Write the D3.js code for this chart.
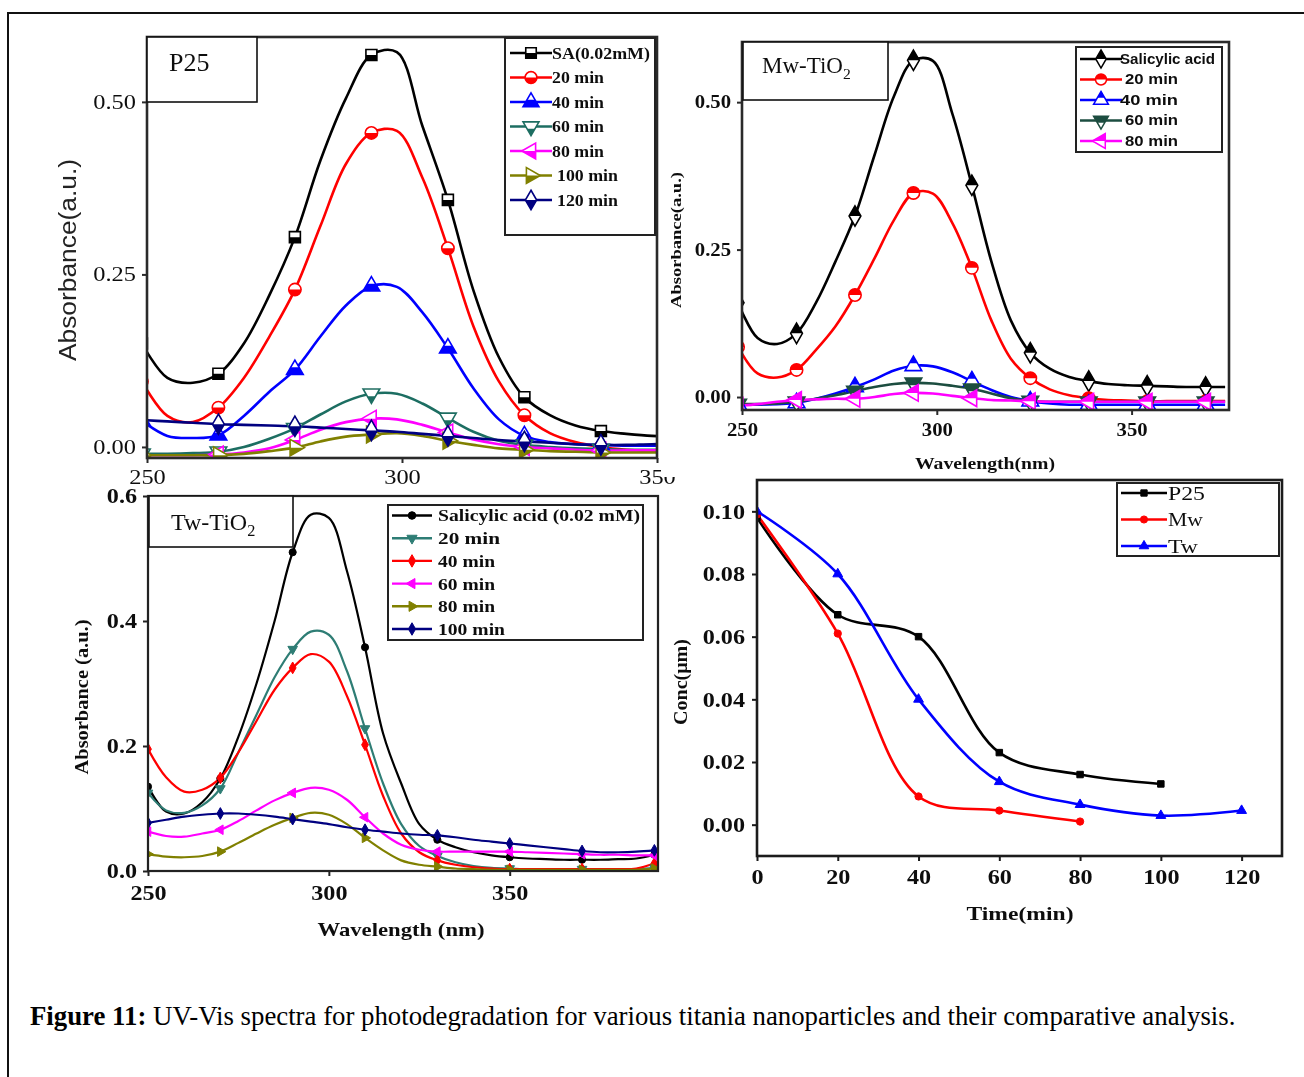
<!DOCTYPE html>
<html>
<head>
<meta charset="utf-8">
<title>Figure 11</title>
<script src="https://cdn.jsdelivr.net/npm/d3@7"></script>
<style>
  html, body { margin: 0; padding: 0; background: #fff; }
  svg { display: block; }
</style>
</head>
<body>
<svg id="fig" width="1304" height="1077"></svg>
<script>
// ---------- P25 spectra (absorbance vs wavelength, nm) ----------
const p25Wavelength = [249, 254, 259, 264, 269, 274, 279, 284, 289, 294, 299, 304, 309, 314, 319, 324, 329, 334, 339, 344, 349, 354];
const p25SA    = [0.150, 0.100, 0.093, 0.106, 0.150, 0.220, 0.304, 0.415, 0.505, 0.568, 0.572, 0.465, 0.358, 0.227, 0.130, 0.072, 0.046, 0.031, 0.023, 0.019, 0.016, 0.015];
const p25Min20 = [0.095, 0.045, 0.036, 0.057, 0.100, 0.160, 0.228, 0.320, 0.410, 0.455, 0.458, 0.390, 0.288, 0.175, 0.095, 0.046, 0.020, 0.007, 0.000, -0.004, -0.006, -0.006];
const p25Min40 = [0.038, 0.016, 0.013, 0.017, 0.045, 0.080, 0.112, 0.160, 0.205, 0.233, 0.232, 0.195, 0.143, 0.085, 0.040, 0.016, 0.007, 0.004, 0.003, 0.002, 0.002, 0.002];
const p25Min60 = [-0.010, -0.010, -0.009, -0.007, 0.000, 0.012, 0.027, 0.047, 0.066, 0.077, 0.077, 0.063, 0.042, 0.022, 0.009, 0.003, 0.000, -0.002, -0.003, -0.004, -0.004, -0.004];
const p25Min80 = [-0.012, -0.012, -0.012, -0.011, -0.008, -0.002, 0.010, 0.025, 0.036, 0.041, 0.040, 0.032, 0.021, 0.011, 0.004, 0.000, -0.002, -0.004, -0.005, -0.005, -0.005, -0.005];
const p25Min100 = [-0.012, -0.012, -0.012, -0.012, -0.010, -0.006, -0.001, 0.008, 0.015, 0.018, 0.020, 0.016, 0.009, 0.003, -0.002, -0.004, -0.006, -0.007, -0.008, -0.008, -0.008, -0.008];
const p25Min120 = [0.039, 0.037, 0.035, 0.033, 0.032, 0.031, 0.030, 0.028, 0.026, 0.024, 0.022, 0.019, 0.016, 0.013, 0.010, 0.008, 0.006, 0.004, 0.003, 0.003, 0.004, 0.004];
const p25Labels = ['SA(0.02mM)', '20 min', '40 min', '60 min', '80 min', '100 min', '120 min'];
const p25YTicks = [0, 0.25, 0.5];

// ---------- Mw-TiO2 spectra ----------
const mwWavelength = [249, 254, 259, 264, 269, 274, 279, 284, 289, 294, 299, 304, 309, 314, 319, 324, 329, 334, 339, 344, 349, 354, 359, 364, 369, 374];
const mwSA    = [0.160, 0.100, 0.090, 0.108, 0.160, 0.230, 0.307, 0.410, 0.510, 0.571, 0.570, 0.480, 0.359, 0.230, 0.130, 0.075, 0.048, 0.034, 0.027, 0.022, 0.020, 0.019, 0.018, 0.017, 0.017, 0.017];
const mwMin20 = [0.085, 0.040, 0.033, 0.046, 0.080, 0.120, 0.173, 0.235, 0.300, 0.346, 0.345, 0.295, 0.219, 0.130, 0.065, 0.032, 0.013, 0.003, -0.002, -0.005, -0.006, -0.007, -0.007, -0.007, -0.007, -0.007];
const mwMin40 = [-0.013, -0.013, -0.012, -0.010, -0.003, 0.006, 0.017, 0.030, 0.045, 0.053, 0.052, 0.042, 0.027, 0.012, 0.000, -0.007, -0.011, -0.013, -0.013, -0.013, -0.013, -0.013, -0.013, -0.013, -0.013, -0.013];
const mwMin60 = [-0.012, -0.012, -0.011, -0.008, -0.003, 0.003, 0.010, 0.017, 0.022, 0.024, 0.023, 0.019, 0.014, 0.006, -0.002, -0.007, -0.008, -0.008, -0.008, -0.008, -0.008, -0.008, -0.008, -0.008, -0.008, -0.008];
const mwMin80 = [-0.015, -0.012, -0.008, -0.005, -0.004, -0.003, -0.003, 0.000, 0.005, 0.007, 0.006, 0.002, -0.002, -0.005, -0.006, -0.007, -0.008, -0.008, -0.008, -0.008, -0.008, -0.008, -0.008, -0.008, -0.008, -0.008];
const mwLabels = ['Salicylic acid', '20 min', '40 min', '60 min', '80 min'];
const mwYTicks = [0, 0.25, 0.5];

// ---------- Tw-TiO2 spectra ----------
const twWavelength = [250, 255, 260, 265, 270, 275, 280, 285, 290, 295, 300, 305, 310, 315, 320, 325, 330, 335, 340, 345, 350, 355, 360, 365, 370, 375, 380, 385, 390];
const twSA    = [0.135, 0.095, 0.092, 0.110, 0.148, 0.215, 0.300, 0.400, 0.510, 0.570, 0.565, 0.480, 0.358, 0.220, 0.140, 0.075, 0.050, 0.038, 0.030, 0.025, 0.022, 0.020, 0.019, 0.018, 0.018, 0.018, 0.019, 0.020, 0.026];
const twMin20 = [0.125, 0.097, 0.093, 0.105, 0.132, 0.190, 0.250, 0.310, 0.355, 0.383, 0.378, 0.320, 0.228, 0.140, 0.075, 0.040, 0.024, 0.014, 0.008, 0.005, 0.004, 0.003, 0.003, 0.003, 0.003, 0.003, 0.003, 0.003, 0.005];
const twMin40 = [0.195, 0.150, 0.127, 0.130, 0.149, 0.190, 0.240, 0.290, 0.325, 0.347, 0.335, 0.280, 0.202, 0.120, 0.060, 0.030, 0.017, 0.010, 0.006, 0.004, 0.003, 0.003, 0.003, 0.003, 0.003, 0.003, 0.003, 0.004, 0.012];
const twMin60 = [0.063, 0.056, 0.055, 0.060, 0.066, 0.080, 0.097, 0.113, 0.125, 0.133, 0.130, 0.114, 0.086, 0.060, 0.042, 0.034, 0.031, 0.031, 0.031, 0.031, 0.031, 0.030, 0.029, 0.028, 0.027, 0.026, 0.026, 0.025, 0.025];
const twMin80 = [0.027, 0.023, 0.022, 0.024, 0.031, 0.045, 0.060, 0.074, 0.085, 0.093, 0.090, 0.075, 0.053, 0.033, 0.017, 0.010, 0.007, 0.004, 0.003, 0.002, 0.002, 0.002, 0.002, 0.002, 0.002, 0.002, 0.002, 0.002, 0.004];
const twMin100 = [0.077, 0.082, 0.087, 0.090, 0.092, 0.092, 0.090, 0.087, 0.083, 0.079, 0.075, 0.070, 0.066, 0.063, 0.060, 0.058, 0.057, 0.054, 0.050, 0.047, 0.044, 0.041, 0.038, 0.035, 0.032, 0.030, 0.030, 0.031, 0.033];
const twLabels = ['Salicylic acid (0.02 mM)', ' 20 min', '40 min', '60 min', '80 min', '100 min'];
const twYTicks = [0, 0.2, 0.4, 0.6];

const spectraXTicks = [250, 300, 350];

// ---------- Concentration vs time ----------
const concTimeP25 = [0, 20, 40, 60, 80, 100];
const concP25     = [0.098, 0.067, 0.060, 0.023, 0.016, 0.013];
const concTimeMw  = [0, 20, 40, 60, 80];
const concMw      = [0.099, 0.061, 0.009, 0.0045, 0.001];
const concTimeTw  = [0, 20, 40, 60, 80, 100, 120];
const concTw      = [0.100, 0.080, 0.040, 0.0137, 0.0064, 0.0029, 0.0045];
const concLabels  = ['P25', 'Mw', 'Tw'];
const concXTicks  = [0, 20, 40, 60, 80, 100, 120];
const concYTicks  = [0, 0.02, 0.04, 0.06, 0.08, 0.10];

const captionBold = 'Figure 11:';
const captionText = ' UV-Vis spectra for photodegradation for various titania nanoparticles and their comparative analysis.';

// ---------- drawing ----------
const SERIF = "'Liberation Serif','Times New Roman',Times,serif";
const SANS = "'Liberation Sans',Arial,Helvetica,sans-serif";
const svg = d3.select('#fig');
const defs = svg.append('defs');

// the scanned panels are slightly soft
defs.append('filter').attr('id', 'soft').attr('x', '-2%').attr('y', '-2%').attr('width', '104%').attr('height', '104%')
  .append('feGaussianBlur').attr('stdDeviation', 0.5);

// clip regions for half-filled (Origin style) symbols
defs.append('clipPath').attr('id', 'lowerHalf').attr('clipPathUnits', 'objectBoundingBox')
  .append('rect').attr('x', -0.2).attr('y', 0.5).attr('width', 1.4).attr('height', 0.7);
defs.append('clipPath').attr('id', 'upperHalf').attr('clipPathUnits', 'objectBoundingBox')
  .append('rect').attr('x', -0.2).attr('y', -0.2).attr('width', 1.4).attr('height', 0.7);

const SHAPES = {
  square: [d3.symbolSquare, 0],
  circle: [d3.symbolCircle, 0],
  up: [d3.symbolTriangle, 0],
  down: [d3.symbolTriangle, 180],
  left: [d3.symbolTriangle, -90],
  right: [d3.symbolTriangle, 90],
  diamond: [d3.symbolDiamond, 0]
};

function marker(parent, x, y, shape, area, color, mode, sw) {
  const [type, rot] = SHAPES[shape];
  const d = d3.symbol(type, area)();
  const m = parent.append('g').attr('transform', `translate(${x},${y})`);
  if (mode === 'filled') {
    m.append('path').attr('d', d).attr('transform', `rotate(${rot})`)
      .attr('fill', color).attr('stroke', color).attr('stroke-width', sw);
    return;
  }
  m.append('path').attr('d', d).attr('transform', `rotate(${rot})`).attr('fill', '#fff');
  m.append('g').attr('clip-path', `url(#${mode}Half)`)
    .append('path').attr('d', d).attr('transform', `rotate(${rot})`).attr('fill', color);
  m.append('path').attr('d', d).attr('transform', `rotate(${rot})`)
    .attr('fill', 'none').attr('stroke', color).attr('stroke-width', sw);
}

function addText(parent, o) {
  const t = parent.append('text')
    .attr('x', o.x).attr('y', o.y)
    .attr('font-family', o.font || SERIF)
    .attr('font-size', o.size)
    .attr('font-weight', o.weight || 'normal')
    .attr('fill', o.fill || '#111')
    .attr('text-anchor', o.anchor || 'start');
  if (o.dy) t.attr('dy', o.dy);
  if (o.rotate) t.attr('transform', `rotate(${o.rotate},${o.x},${o.y})`);
  if (o.length) t.attr('textLength', o.length).attr('lengthAdjust', 'spacingAndGlyphs');
  t.text(o.text);
  return t;
}

function panel(root, o) {
  const g = root.append('g');
  const x = d3.scaleLinear().domain(o.xDomain).range([o.left, o.right]);
  const y = d3.scaleLinear().domain(o.yDomain).range([o.bottom, o.top]);
  const clipId = o.id + 'Clip';
  defs.append('clipPath').attr('id', clipId).append('rect')
    .attr('x', o.left).attr('y', o.top).attr('width', o.right - o.left).attr('height', o.bottom - o.top);

  const plot = g.append('g').attr('clip-path', `url(#${clipId})`);
  o.series.forEach(s => {
    const line = d3.line()
      .x((d, i) => x(s.xs[i]))
      .y(d => y(d))
      .curve(o.curve);
    plot.append('path').datum(s.values).attr('d', line)
      .attr('fill', 'none').attr('stroke', s.color)
      .attr('stroke-width', o.lineWidth).attr('stroke-linejoin', 'round');
  });
  o.series.forEach(s => {
    s.values.forEach((v, i) => {
      if (o.markerEvery && (i % o.markerEvery) !== 0) return;
      marker(plot, x(s.xs[i]), y(v), s.shape, o.markerArea, s.color, o.markerMode, o.markerStroke);
    });
  });

  // axes
  const ax = g.append('g').attr('transform', `translate(0,${o.bottom})`)
    .call(d3.axisBottom(x).tickValues(o.xTicks).tickSize(5).tickSizeOuter(0)
      .tickPadding(o.xPad).tickFormat(o.xFormat));
  const ay = g.append('g').attr('transform', `translate(${o.left},0)`)
    .call(d3.axisLeft(y).tickValues(o.yTicks).tickSize(5).tickSizeOuter(0)
      .tickPadding(o.yPad).tickFormat(o.yFormat));
  [ax, ay].forEach(a => {
    a.select('.domain').remove();
    a.selectAll('line').attr('stroke', o.frameColor).attr('stroke-width', 2);
    a.selectAll('text').attr('font-family', SERIF).attr('font-size', o.tickSize)
      .attr('font-weight', o.tickWeight).attr('fill', '#111')
      .each(function () {
        // tick numerals in this figure are set a little wide
        const w = this.getComputedTextLength();
        d3.select(this).attr('textLength', w * o.tickStretch).attr('lengthAdjust', 'spacingAndGlyphs');
      });
  });

  g.append('rect').attr('x', o.left).attr('y', o.top)
    .attr('width', o.right - o.left).attr('height', o.bottom - o.top)
    .attr('fill', 'none').attr('stroke', o.frameColor).attr('stroke-width', o.frameWidth);
  return { g, x, y };
}

function legend(root, o) {
  const g = root.append('g');
  g.append('rect').attr('x', o.x).attr('y', o.y).attr('width', o.w).attr('height', o.h)
    .attr('fill', '#fff').attr('stroke', o.stroke || '#222').attr('stroke-width', o.sw || 2);
  o.items.forEach((it, i) => {
    const cy = o.firstY + i * o.step;
    g.append('line').attr('x1', o.lineX0).attr('x2', o.lineX1).attr('y1', cy).attr('y2', cy)
      .attr('stroke', it.color).attr('stroke-width', o.lineWidth);
    marker(g, (o.lineX0 + o.lineX1) / 2, cy, it.shape, o.markerArea, it.color, o.markerMode, o.markerStroke);
    addText(g, { x: o.textX + (o.dx ? o.dx[i] : 0), y: cy, dy: '0.35em', text: it.label,
      font: o.font, size: o.fontSize, weight: o.weight, length: o.lengths[i] });
  });
}

function labelBox(root, o) {
  const g = root.append('g');
  g.append('rect').attr('x', o.x).attr('y', o.y).attr('width', o.w).attr('height', o.h)
    .attr('fill', '#fff').attr('stroke', '#111').attr('stroke-width', 1.6);
  const t = g.append('text').attr('x', o.tx).attr('y', o.ty)
    .attr('font-family', SERIF).attr('font-size', o.size).attr('fill', '#111');
  t.append('tspan').text(o.main);
  if (o.sub) t.append('tspan').attr('font-size', o.size * 0.68).attr('dy', o.size * 0.25).text(o.sub);
}

// outer figure frame
svg.append('path').attr('d', 'M8,1080 L8,13 L1310,13')
  .attr('fill', 'none').attr('stroke', '#111').attr('stroke-width', 2);

const fmt2 = d3.format('.2f');
const fmt1 = d3.format('.1f');
const spectrumCurve = d3.curveCatmullRom.alpha(0.5);

// ===== P25 =====
const p25Root = svg.append('g').attr('filter', 'url(#soft)');
const p25Series = [
  { values: p25SA, color: '#000000', shape: 'square' },
  { values: p25Min20, color: '#ff0000', shape: 'circle' },
  { values: p25Min40, color: '#0000ff', shape: 'up' },
  { values: p25Min60, color: '#1f6e62', shape: 'down' },
  { values: p25Min80, color: '#ff00ff', shape: 'left' },
  { values: p25Min100, color: '#808000', shape: 'right' },
  { values: p25Min120, color: '#000080', shape: 'diamond' }
].map(s => Object.assign(s, { xs: p25Wavelength }));
panel(p25Root, {
  id: 'p25', xDomain: [250, 350], yDomain: [-0.016, 0.594],
  left: 147, right: 657, top: 37, bottom: 458,
  series: p25Series, curve: spectrumCurve, lineWidth: 2.6,
  markerEvery: 3, markerArea: 120, markerMode: 'lower', markerStroke: 1.6,
  xTicks: spectraXTicks, yTicks: p25YTicks, xFormat: d3.format('d'), yFormat: fmt2,
  xPad: 7, yPad: 6, tickSize: 20, tickWeight: 'normal', tickStretch: 1.22,
  frameColor: '#2a2a2a', frameWidth: 2.6
});
addText(p25Root, { x: 76, y: 260, text: 'Absorbance(a.u.)', font: SANS, size: 23, anchor: 'middle', rotate: -90, length: 202, fill: '#222' });
labelBox(p25Root, { x: 147, y: 37, w: 110, h: 65, tx: 169, ty: 71, size: 26, main: 'P25' });
legend(p25Root, {
  x: 505, y: 38, w: 150, h: 197, firstY: 53, step: 24.5,
  lineX0: 510, lineX1: 552, textX: 552, dx: [0, 0, 0, 0, 0, 5, 5],
  lineWidth: 2.6, markerArea: 110, markerMode: 'lower', markerStroke: 1.6,
  font: SERIF, fontSize: 16, weight: 'bold',
  lengths: [98, 52, 52, 52, 52, 61, 61],
  items: p25Series.map((s, i) => ({ color: s.color, shape: s.shape, label: p25Labels[i] }))
});

// white ground of the neighbouring panel trims the last P25 tick label
svg.append('rect').attr('x', 661).attr('y', 15).attr('width', 643).attr('height', 462).attr('fill', '#fff');

// ===== Mw-TiO2 =====
const mwRoot = svg.append('g').attr('filter', 'url(#soft)');
const mwSeries = [
  { values: mwSA, color: '#000000', shape: 'diamond' },
  { values: mwMin20, color: '#ff0000', shape: 'circle' },
  { values: mwMin40, color: '#0000ff', shape: 'up' },
  { values: mwMin60, color: '#1d4d3f', shape: 'down' },
  { values: mwMin80, color: '#ff00ff', shape: 'left' }
].map(s => Object.assign(s, { xs: mwWavelength }));
panel(mwRoot, {
  id: 'mw', xDomain: [250, 375], yDomain: [-0.022, 0.602],
  left: 742, right: 1229, top: 42, bottom: 410,
  series: mwSeries, curve: spectrumCurve, lineWidth: 2.6,
  markerEvery: 3, markerArea: 120, markerMode: 'upper', markerStroke: 1.6,
  xTicks: spectraXTicks, yTicks: mwYTicks, xFormat: d3.format('d'), yFormat: fmt2,
  xPad: 8, yPad: 6, tickSize: 18, tickWeight: 'bold', tickStretch: 1.15,
  frameColor: '#2a2a2a', frameWidth: 2.6
});
addText(mwRoot, { x: 681, y: 240, text: 'Absorbance(a.u.)', size: 15, weight: 'bold', anchor: 'middle', rotate: -90, length: 136 });
addText(mwRoot, { x: 985, y: 469, text: 'Wavelength(nm)', size: 16, weight: 'bold', anchor: 'middle', length: 140 });
labelBox(mwRoot, { x: 743, y: 42, w: 145, h: 58, tx: 762, ty: 73, size: 23, main: 'Mw-TiO', sub: '2' });
legend(mwRoot, {
  x: 1076, y: 47, w: 146, h: 105, firstY: 59, step: 20.5,
  lineX0: 1080, lineX1: 1122, textX: 1120, dx: [0, 5, 0, 5, 5],
  lineWidth: 2.6, markerArea: 95, markerMode: 'upper', markerStroke: 1.5,
  font: SANS, fontSize: 14, weight: 'bold',
  lengths: [95, 53, 58, 53, 53],
  items: mwSeries.map((s, i) => ({ color: s.color, shape: s.shape, label: mwLabels[i] }))
});

// ===== Tw-TiO2 =====
const twRoot = svg.append('g').attr('filter', 'url(#soft)');
const twSeries = [
  { values: twSA, color: '#000000', shape: 'circle' },
  { values: twMin20, color: '#2e7d74', shape: 'down' },
  { values: twMin40, color: '#ff0000', shape: 'diamond' },
  { values: twMin60, color: '#ff00ff', shape: 'left' },
  { values: twMin80, color: '#808000', shape: 'right' },
  { values: twMin100, color: '#000080', shape: 'diamond' }
].map(s => Object.assign(s, { xs: twWavelength }));
panel(twRoot, {
  id: 'tw', xDomain: [250, 391], yDomain: [0, 0.6],
  left: 148, right: 658, top: 496, bottom: 871,
  series: twSeries, curve: spectrumCurve, lineWidth: 2.2,
  markerEvery: 4, markerArea: 40, markerMode: 'filled', markerStroke: 1,
  xTicks: spectraXTicks, yTicks: twYTicks, xFormat: d3.format('d'), yFormat: fmt1,
  xPad: 9, yPad: 6, tickSize: 21, tickWeight: 'bold', tickStretch: 1.15,
  frameColor: '#222', frameWidth: 2.2
});
addText(twRoot, { x: 88, y: 697, text: 'Absorbance (a.u.)', size: 18, weight: 'bold', anchor: 'middle', rotate: -90, length: 155 });
addText(twRoot, { x: 401, y: 936, text: 'Wavelength (nm)', size: 19, weight: 'bold', anchor: 'middle', length: 167 });
labelBox(twRoot, { x: 149, y: 496, w: 144, h: 51, tx: 171, ty: 530, size: 24, main: 'Tw-TiO', sub: '2' });
legend(twRoot, {
  x: 388, y: 505, w: 255, h: 135, firstY: 515.5, step: 22.7,
  lineX0: 392, lineX1: 432, textX: 438, dx: [0, 0, 0, 0, 0, 0],
  lineWidth: 2.4, markerArea: 45, markerMode: 'filled', markerStroke: 1,
  font: SERIF, fontSize: 17, weight: 'bold',
  lengths: [202, 62, 57, 57, 57, 67],
  items: twSeries.map((s, i) => ({ color: s.color, shape: s.shape, label: twLabels[i] }))
});

// ===== Concentration vs time =====
const concRoot = svg.append('g').attr('filter', 'url(#soft)');
const concSeries = [
  { xs: concTimeP25, values: concP25, color: '#000000', shape: 'square' },
  { xs: concTimeMw, values: concMw, color: '#ff0000', shape: 'circle' },
  { xs: concTimeTw, values: concTw, color: '#0000ff', shape: 'up' }
];
panel(concRoot, {
  id: 'conc', xDomain: [0, 130], yDomain: [-0.01, 0.11],
  left: 757, right: 1282, top: 480, bottom: 856,
  series: concSeries, curve: d3.curveCatmullRom.alpha(0.5), lineWidth: 2.6,
  markerEvery: 0, markerArea: 42, markerMode: 'filled', markerStroke: 1,
  xTicks: concXTicks, yTicks: concYTicks, xFormat: d3.format('d'), yFormat: fmt2,
  xPad: 8, yPad: 7, tickSize: 21, tickWeight: 'bold', tickStretch: 1.15,
  frameColor: '#1a1a1a', frameWidth: 2.6
});
addText(concRoot, { x: 687, y: 682, text: 'Conc(μm)', size: 18, weight: 'bold', anchor: 'middle', rotate: -90, length: 86 });
addText(concRoot, { x: 1020, y: 920, text: 'Time(min)', size: 19, weight: 'bold', anchor: 'middle', length: 107 });
legend(concRoot, {
  x: 1117, y: 483, w: 162, h: 73, firstY: 493, step: 26.5,
  lineX0: 1121, lineX1: 1167, textX: 1168,
  lineWidth: 2.6, markerArea: 40, markerMode: 'filled', markerStroke: 1,
  font: SERIF, fontSize: 19, weight: 'normal',
  lengths: [37, 35, 30],
  items: concSeries.map((s, i) => ({ color: s.color, shape: s.shape, label: concLabels[i] }))
});

// ===== caption =====
const cap = svg.append('text').attr('x', 30).attr('y', 1025)
  .attr('font-family', SERIF).attr('font-size', 26.8).attr('fill', '#000');
cap.append('tspan').attr('font-weight', 'bold').text(captionBold);
cap.append('tspan').text(captionText);
</script>
</body>
</html>
